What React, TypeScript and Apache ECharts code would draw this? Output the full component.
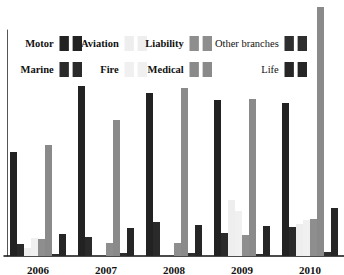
import React, { useEffect, useRef } from "react";
import * as echarts from "echarts";

const years = ["2006", "2007", "2008", "2009", "2010"];
const seriesNames = ["Motor", "Marine", "Aviation", "Fire", "Liability", "Medical", "Other branches", "Life"];
const motor = [104, 170, 163, 156, 153];
const marine = [12, 19, 34, 23, 29];
const aviation = [8, 0, 0, 56, 32];
const fire = [18, 0, 0, 45, 36];
const liability = [17, 13, 13, 21, 37];
const medical = [111, 136, 168, 157, 249];
const otherBranches = [2, 3, 3, 2, 4];
const life = [22, 28, 31, 30, 48];

const seriesValues = [motor, marine, aviation, fire, liability, medical, otherBranches, life];
const colors = ["#222", "#2a2a2a", "#eeeeee", "#f0f0f0", "#8e8e8e", "#8a8a8a", "#2e2e2e", "#262626"];
const bold = [true, true, true, true, true, true, false, false];
const serif = "'Liberation Serif', 'Times New Roman', Times, 'DejaVu Serif', serif";
// legend swatch right edge & top
const legendPos = [
  { right: 262, top: 36 },
  { right: 262, top: 62 },
  { right: 197, top: 36 },
  { right: 197, top: 62 },
  { right: 132, top: 36 },
  { right: 132, top: 62 },
  { right: 37, top: 36 },
  { right: 37, top: 62 },
];

export default function App() {
  const ref = useRef<HTMLDivElement>(null);
  useEffect(() => {
    const chart = echarts.init(ref.current!, null, { renderer: "svg" });
    const icon = "path://M0 0H10V16H0Z M14 0H24V16H14Z";
    chart.setOption({
      animation: false,
      backgroundColor: "#fff",
      textStyle: { fontFamily: serif },
      grid: { left: 4, right: -6, top: 30, bottom: 19, containLabel: false },
      legend: seriesNames.map((n, i) => ({
        data: [n],
        right: legendPos[i].right,
        top: legendPos[i].top,
        align: "right",
        orient: "horizontal",
        padding: 0,
        icon,
        itemWidth: 24,
        itemHeight: 15,
        selectedMode: false,
        textStyle: {
          fontFamily: serif,
          fontSize: 10.5,
          fontWeight: bold[i] ? "bold" : "normal",
          color: "#111",
        },
      })),
      xAxis: {
        type: "category",
        data: years,
        axisLine: { show: true, lineStyle: { color: "#111", width: 1.5 } },
        axisTick: { show: false },
        axisLabel: {
          fontFamily: serif,
          fontWeight: "bold",
          fontSize: 11,
          color: "#111",
          margin: 8,
        },
      },
      yAxis: {
        type: "value",
        min: 0,
        max: 226,
        offset: -3,
        axisLine: { show: true, lineStyle: { color: "#555", width: 1 } },
        axisTick: { show: false },
        axisLabel: { show: false },
        splitLine: { show: false },
      },
      series: seriesNames.map((n, i) => ({
        name: n,
        type: "bar",
        data: seriesValues[i],
        barWidth: 7,
        barGap: "0%",
        clip: false,
        itemStyle: { color: colors[i] },
      })),
    });
    return () => chart.dispose();
  }, []);
  return (
    <div
      ref={ref}
      style={{ position: "fixed", left: 0, top: 0, width: 344, height: 275, background: "#fff" }}
    />
  );
}
